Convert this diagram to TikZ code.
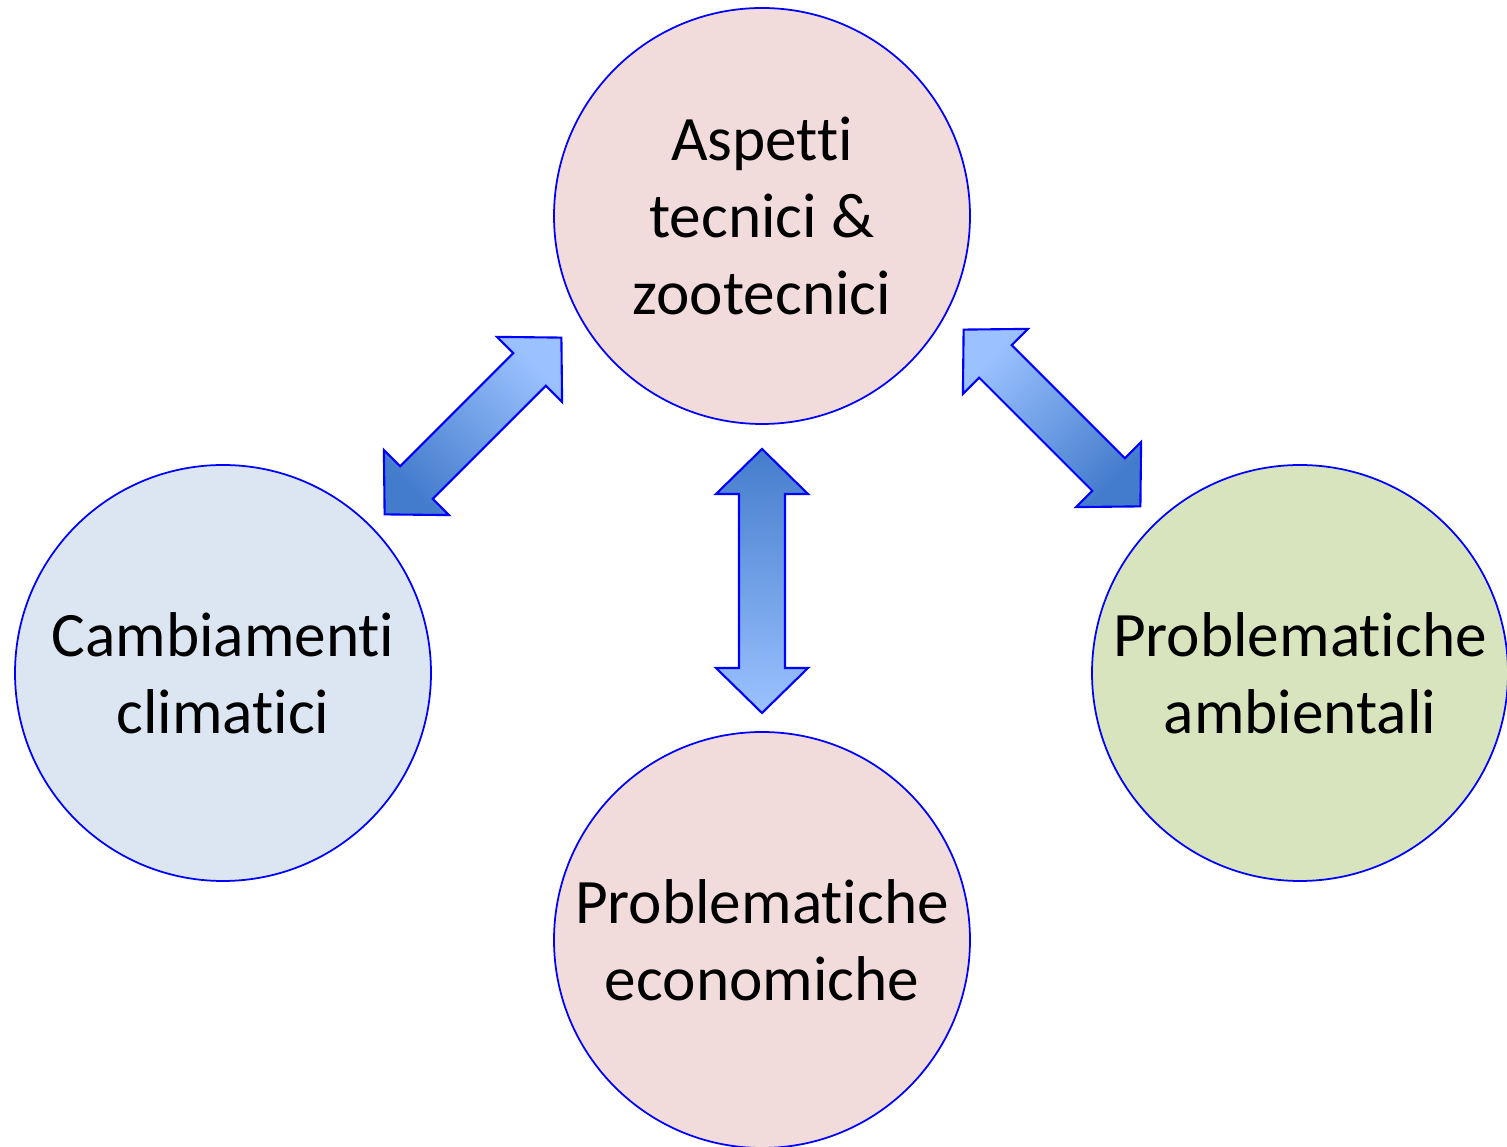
\documentclass[tikz,border=0pt]{standalone}
\usepackage{fontspec}
\setmainfont{Carlito}[RawFeature=-liga]
\usepackage{tikz}
\usepackage{xcolor}
\definecolor{pinkfill}{RGB}{242,220,219}
\definecolor{bluefill}{RGB}{220,230,242}
\definecolor{greenfill}{RGB}{215,228,189}
\definecolor{arrowdark}{RGB}{68,124,204}
\definecolor{arrowlight}{RGB}{155,194,255}
\definecolor{edgeblue}{RGB}{0,0,255}

\tikzset{
  topic/.style={circle, draw=edgeblue, line width=0.5pt, minimum size=4.16cm,
    inner sep=0pt, align=center, font=\fontsize{18}{21.9}\selectfont},
  pics/dblarrow/.style={
    code={
      \path[draw=edgeblue, line width=0.6pt, #1]
        (-1.25,0) -- (-0.8,0.46) -- (-0.8,0.23) -- (0.8,0.23) -- (0.8,0.46)
        -- (1.25,0) -- (0.8,-0.46) -- (0.8,-0.23) -- (-0.8,-0.23)
        -- (-0.8,-0.46) -- cycle;
    }
  }
}

\begin{document}
\begin{tikzpicture}
  \useasboundingbox (0,0) rectangle (15.07,11.46);

  \node[topic, fill=pinkfill] (aspetti) at (7.62,9.30) {Aspetti\\tecnici \&\\zootecnici};
  \node[topic, fill=bluefill] (clima) at (2.23,4.73) {Cambiamenti\\climatici};
  \node[topic, fill=greenfill] (ambiente) at (13.00,4.73) {Problematiche\\ambientali};
  \node[topic, fill=pinkfill] (economia) at (7.62,2.06) {Problematiche\\economiche};

  % frecce tra i cerchi
  \path[draw=edgeblue, line width=0.6pt, top color=arrowdark, bottom color=arrowlight]
    (7.62,6.97) -- (8.08,6.52) -- (7.85,6.52) -- (7.85,4.78) -- (8.08,4.78)
    -- (7.62,4.33) -- (7.16,4.78) -- (7.39,4.78) -- (7.39,6.52)
    -- (7.16,6.52) -- cycle;
  \pic[rotate=45] at (4.73,7.20)
    {dblarrow={top color=arrowlight, bottom color=arrowdark, shading angle=-45}};
  \pic[rotate=-45] at (10.52,7.28)
    {dblarrow={top color=arrowlight, bottom color=arrowdark, shading angle=45}};
\end{tikzpicture}
\end{document}
